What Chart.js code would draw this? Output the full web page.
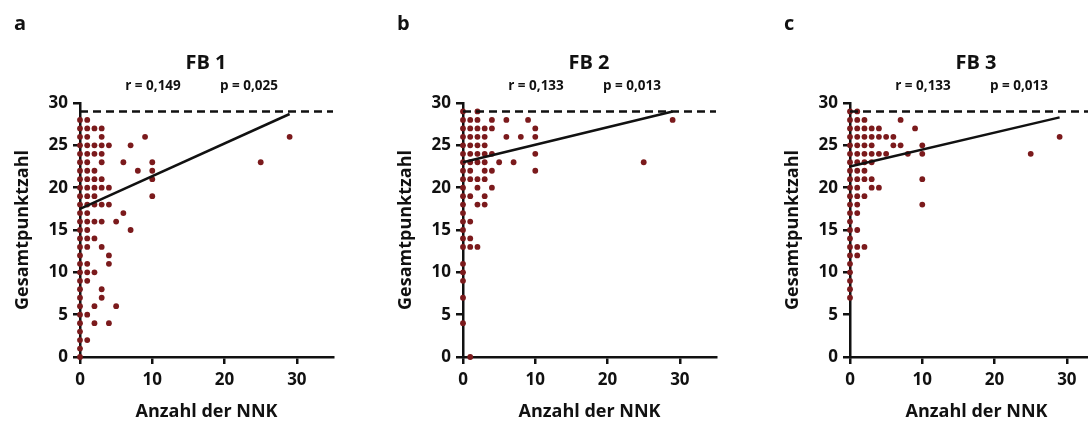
<!DOCTYPE html>
<html lang="de">
<head>
  <meta charset="UTF-8" />
  <title>Gesamtpunktzahl und Anzahl der NNK</title>
  <script src="https://cdn.jsdelivr.net/npm/chart.js"></script>
  <style>
    html, body {
      margin: 0;
      padding: 0;
      background: #fff;
      width: 1088px;
      height: 421px;
      overflow: hidden;
    }
    .panel {
      position: absolute;
      top: 0;
    }
  </style>
</head>
<body>
  <canvas id="fb1" class="panel" width="370" height="421" style="left:0px"></canvas>
  <canvas id="fb2" class="panel" width="370" height="421" style="left:383px"></canvas>
  <canvas id="fb3" class="panel" width="370" height="421" style="left:770px"></canvas>

  <script>
    // each entry: [Anzahl der NNK, [Gesamtpunktzahl values at that NNK]]
    const fb1Points = [
      [0, [0, 1, 2, 3, 4, 5, 6, 7, 8, 9, 10, 11, 12, 13, 14, 15, 16, 17, 18, 19, 20, 21, 22, 23, 24, 25, 26, 27, 28]],
      [1, [28, 27, 26, 25, 24, 23, 22, 21, 20, 19, 18, 17, 16, 15, 14, 13, 11, 10, 9, 5, 2]],
      [2, [27, 25, 24, 22, 21, 20, 19, 18, 16, 14, 10, 6, 4]],
      [3, [27, 26, 25, 24, 23, 21, 20, 18, 16, 13, 8, 7]],
      [4, [25, 20, 18, 12, 11, 4]],
      [5, [16, 6]],
      [6, [23, 17]],
      [7, [25, 15]],
      [8, [22]],
      [9, [26]],
      [10, [23, 22, 21, 19]],
      [25, [23]],
      [29, [26]]
    ];
    const fb2Points = [
      [0, [4, 7, 9, 10, 11, 13, 14, 15, 16, 17, 18, 19, 20, 21, 22, 23, 24, 25, 26, 27, 28, 29]],
      [1, [28, 27, 26, 25, 24, 23, 22, 21, 19, 16, 14, 13, 0]],
      [2, [29, 28, 27, 26, 25, 24, 23, 21, 20, 18, 13]],
      [3, [27, 26, 25, 24, 23, 22, 21, 19, 18]],
      [4, [28, 27, 24, 22, 20]],
      [5, [23]],
      [6, [28, 26]],
      [7, [23]],
      [8, [26]],
      [9, [28]],
      [10, [27, 26, 24, 22]],
      [25, [23]],
      [29, [28]]
    ];
    const fb3Points = [
      [0, [7, 8, 9, 10, 11, 12, 13, 14, 15, 16, 17, 18, 19, 20, 21, 22, 23, 24, 25, 26, 27, 28, 29]],
      [1, [29, 28, 27, 26, 25, 24, 23, 22, 21, 20, 19, 18, 17, 15, 13, 12]],
      [2, [28, 27, 26, 25, 24, 23, 22, 21, 19, 13]],
      [3, [27, 26, 25, 24, 23, 21, 20]],
      [4, [27, 26, 24, 20]],
      [5, [26, 24]],
      [6, [26, 25]],
      [7, [28, 25]],
      [8, [24]],
      [9, [27]],
      [10, [25, 24, 21, 18]],
      [25, [24]],
      [29, [26]]
    ];

    // regression line end points [x0, y0, x1, y1]
    const fb1Fit = [0, 17.5, 29, 28.7];
    const fb2Fit = [0, 23.0, 29, 29.0];
    const fb3Fit = [0, 22.5, 29, 28.3];

    const maxScore = 29;           // dashed reference line
    const xTicks = [0, 10, 20, 30];
    const yTicks = [0, 5, 10, 15, 20, 25, 30];

    const ink = '#111';
    const dotRed = '#7b1a1c';
    const font = '"Open Sans", sans-serif';

    // panel letter, title and r / p values above the plot area
    const panelText = {
      id: 'panelText',
      afterDraw(chart, args, opts) {
        const { ctx, chartArea } = chart;
        const left = chartArea.left;
        ctx.save();
        ctx.fillStyle = ink;
        ctx.textBaseline = 'middle';
        ctx.textAlign = 'left';
        ctx.font = 'bold 20px ' + font;
        ctx.fillText(opts.letter, left - 66, 24);
        ctx.textAlign = 'center';
        ctx.font = 'bold 20px ' + font;
        ctx.fillText(opts.title, left + 126, 63);
        ctx.font = 'bold 13.5px ' + font;
        ctx.fillText(opts.r, left + 73, 86);
        ctx.fillText(opts.p, left + 169, 86);
        ctx.restore();
      }
    };

    function toXY(points) {
      const out = [];
      points.forEach(([x, ys]) => ys.forEach(y => out.push({ x: x, y: y })));
      return out;
    }

    function axisGrid() {
      return {
        display: true,
        drawOnChartArea: false,
        drawTicks: true,
        tickLength: 7,
        color: ink,
        lineWidth: 2.5
      };
    }

    function makePanel(id, points, fit, text) {
      new Chart(document.getElementById(id), {
        type: 'scatter',
        data: {
          datasets: [
            {
              type: 'line',
              data: [{ x: fit[0], y: fit[1] }, { x: fit[2], y: fit[3] }],
              borderColor: ink,
              borderWidth: 2.5,
              pointRadius: 0,
              clip: false
            },
            {
              type: 'line',
              data: [{ x: 0, y: maxScore }, { x: 35, y: maxScore }],
              borderColor: ink,
              borderWidth: 2.5,
              borderDash: [8, 5],
              pointRadius: 0,
              clip: false
            },
            {
              data: toXY(points),
              backgroundColor: dotRed,
              borderWidth: 0,
              pointRadius: 2.9,
              clip: false
            }
          ]
        },
        options: {
          responsive: false,
          animation: false,
          events: [],
          layout: { autoPadding: false, padding: { top: 103, right: 37, left: 0, bottom: 0 } },
          plugins: {
            legend: { display: false },
            tooltip: { enabled: false },
            panelText: text
          },
          scales: {
            x: {
              type: 'linear',
              min: 0,
              max: 35,
              afterFit: s => { s.height = 64; },
              afterBuildTicks: s => { s.ticks = xTicks.map(v => ({ value: v })); },
              border: { color: ink, width: 2.5 },
              grid: axisGrid(),
              ticks: { color: ink, padding: 6, font: { family: font, size: 17, weight: 'bold' } },
              title: {
                display: true,
                text: 'Anzahl der NNK',
                color: ink,
                padding: { top: 0, bottom: 0 },
                font: { family: font, size: 18, weight: 'bold', lineHeight: 1 }
              }
            },
            y: {
              type: 'linear',
              min: 0,
              max: 30,
              afterFit: s => { s.width = 80; },
              afterBuildTicks: s => { s.ticks = yTicks.map(v => ({ value: v })); },
              border: { color: ink, width: 2.5 },
              grid: axisGrid(),
              ticks: { color: ink, padding: 5, font: { family: font, size: 17, weight: 'bold' } },
              title: {
                display: true,
                text: 'Gesamtpunktzahl',
                color: ink,
                padding: { top: 14, bottom: 0 },
                font: { family: font, size: 18, weight: 'bold', lineHeight: 1 }
              }
            }
          }
        },
        plugins: [panelText]
      });
    }

    makePanel('fb1', fb1Points, fb1Fit, { letter: 'a', title: 'FB 1', r: 'r = 0,149', p: 'p = 0,025' });
    makePanel('fb2', fb2Points, fb2Fit, { letter: 'b', title: 'FB 2', r: 'r = 0,133', p: 'p = 0,013' });
    makePanel('fb3', fb3Points, fb3Fit, { letter: 'c', title: 'FB 3', r: 'r = 0,133', p: 'p = 0,013' });
  </script>
</body>
</html>
